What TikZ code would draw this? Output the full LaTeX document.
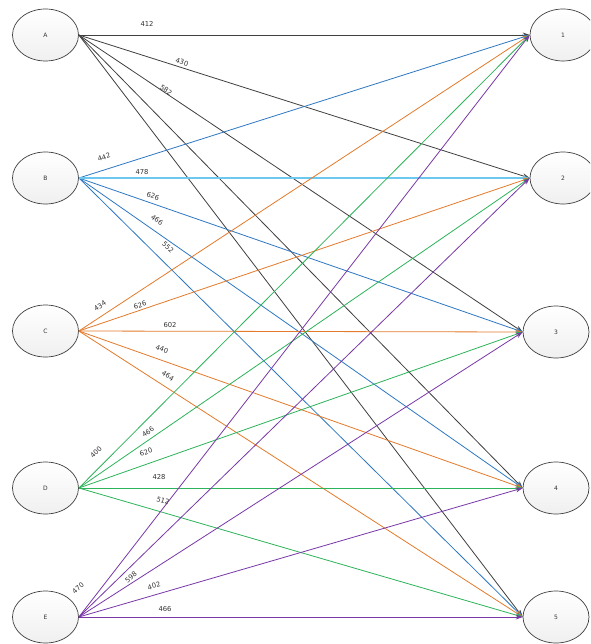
\documentclass[tikz,border=0pt]{standalone}
\usepackage{fontspec}
\setmainfont{DejaVu Sans}
\usetikzlibrary{shapes.geometric,arrows.meta}
\definecolor{ca}{HTML}{404040}
\definecolor{cb}{HTML}{2E78C2}
\definecolor{cb2}{HTML}{6CC8EE}
\definecolor{cc}{HTML}{E47B2C}
\definecolor{cd}{HTML}{2DB35A}
\definecolor{ce}{HTML}{7838A8}
\definecolor{txt}{HTML}{333333}
\tikzset{
  vtx/.style={ellipse, draw=ca, line width=0.7pt, top color=white, bottom color=gray!12,
    minimum width=66pt, minimum height=52pt, inner sep=0pt,
    font=\fontsize{6}{6}\selectfont, text=txt},
  con/.style={line width=0.8pt, -{Stealth[length=7pt,width=5pt]}},
  lbl/.style={font=\fontsize{6.8}{7}\selectfont, text=txt, inner sep=0pt}
}
\begin{document}
\begin{tikzpicture}[x=1pt,y=-1pt]
\useasboundingbox (0,0) rectangle (590,644);
\clip (0,0) rectangle (590,644);
\fill[white] (0,0) rectangle (590,644);
% nodes
\node[vtx] (A) at (45.5,35) {A};
\node[vtx] (B) at (45.5,178) {B};
\node[vtx] (C) at (45.5,331) {C};
\node[vtx] (D) at (45.5,488) {D};
\node[vtx] (E) at (45.5,617) {E};
\node[vtx] (n1) at (563,35) {1};
\node[vtx] (n2) at (563,178) {2};
\node[vtx] (n3) at (556,332) {3};
\node[vtx] (n4) at (556,488) {4};
\node[vtx] (n5) at (556,617) {5};
% A edges
\foreach \t in {n1,n2,n3,n4,n5} \draw[con,ca] (A.east) -- (\t.west);
% B edges
\foreach \t in {n1,n3,n4,n5} \draw[con,cb] (B.east) -- (\t.west);
\draw[con,cb2,line width=1.6pt] (B.east) -- (n2.west);
% C edges
\foreach \t in {n1,n2,n3,n4,n5} \draw[con,cc] (C.east) -- (\t.west);
% D edges
\foreach \t in {n1,n2,n3,n4,n5} \draw[con,cd] (D.east) -- (\t.west);
% E edges
\foreach \t in {n1,n2,n3,n4,n5} \draw[con,ce] (E.east) -- (\t.west);
% labels
\node[lbl] (lA1) at (147,24) {412};
\node[lbl,rotate=-17.6] (lA2) at (182,62) {430};
\node[lbl,rotate=-36] (lA3) at (166,90) {582};
\node[lbl,rotate=17.6] (lB1) at (104,157) {442};
\node[lbl] (lB2) at (142,172) {478};
\node[lbl,rotate=-19] (lB3) at (153,196) {626};
\node[lbl,rotate=-35] (lB4) at (157,220) {466};
\node[lbl,rotate=-45] (lB5) at (168,247) {552};
\node[lbl,rotate=33] (lC1) at (100,306) {434};
\node[lbl,rotate=19] (lC2) at (140,305) {626};
\node[lbl] (lC3) at (170,325) {602};
\node[lbl,rotate=-19.5] (lC4) at (162,349) {440};
\node[lbl,rotate=-33] (lC5) at (168,376) {464};
\node[lbl,rotate=45] (lD1) at (96,452) {400};
\node[lbl,rotate=34.5] (lD2) at (148,432) {466};
\node[lbl,rotate=19.4] (lD3) at (146,452) {620};
\node[lbl] (lD4) at (159,477) {428};
\node[lbl,rotate=-16] (lD5) at (163,501) {512};
\node[lbl,rotate=42] (lE1) at (78,588) {470};
\node[lbl,rotate=40] (lE3) at (131,577) {598};
\node[lbl,rotate=16] (lE4) at (154,586) {402};
\node[lbl] (lE5) at (165,609) {466};
\end{tikzpicture}
\end{document}
